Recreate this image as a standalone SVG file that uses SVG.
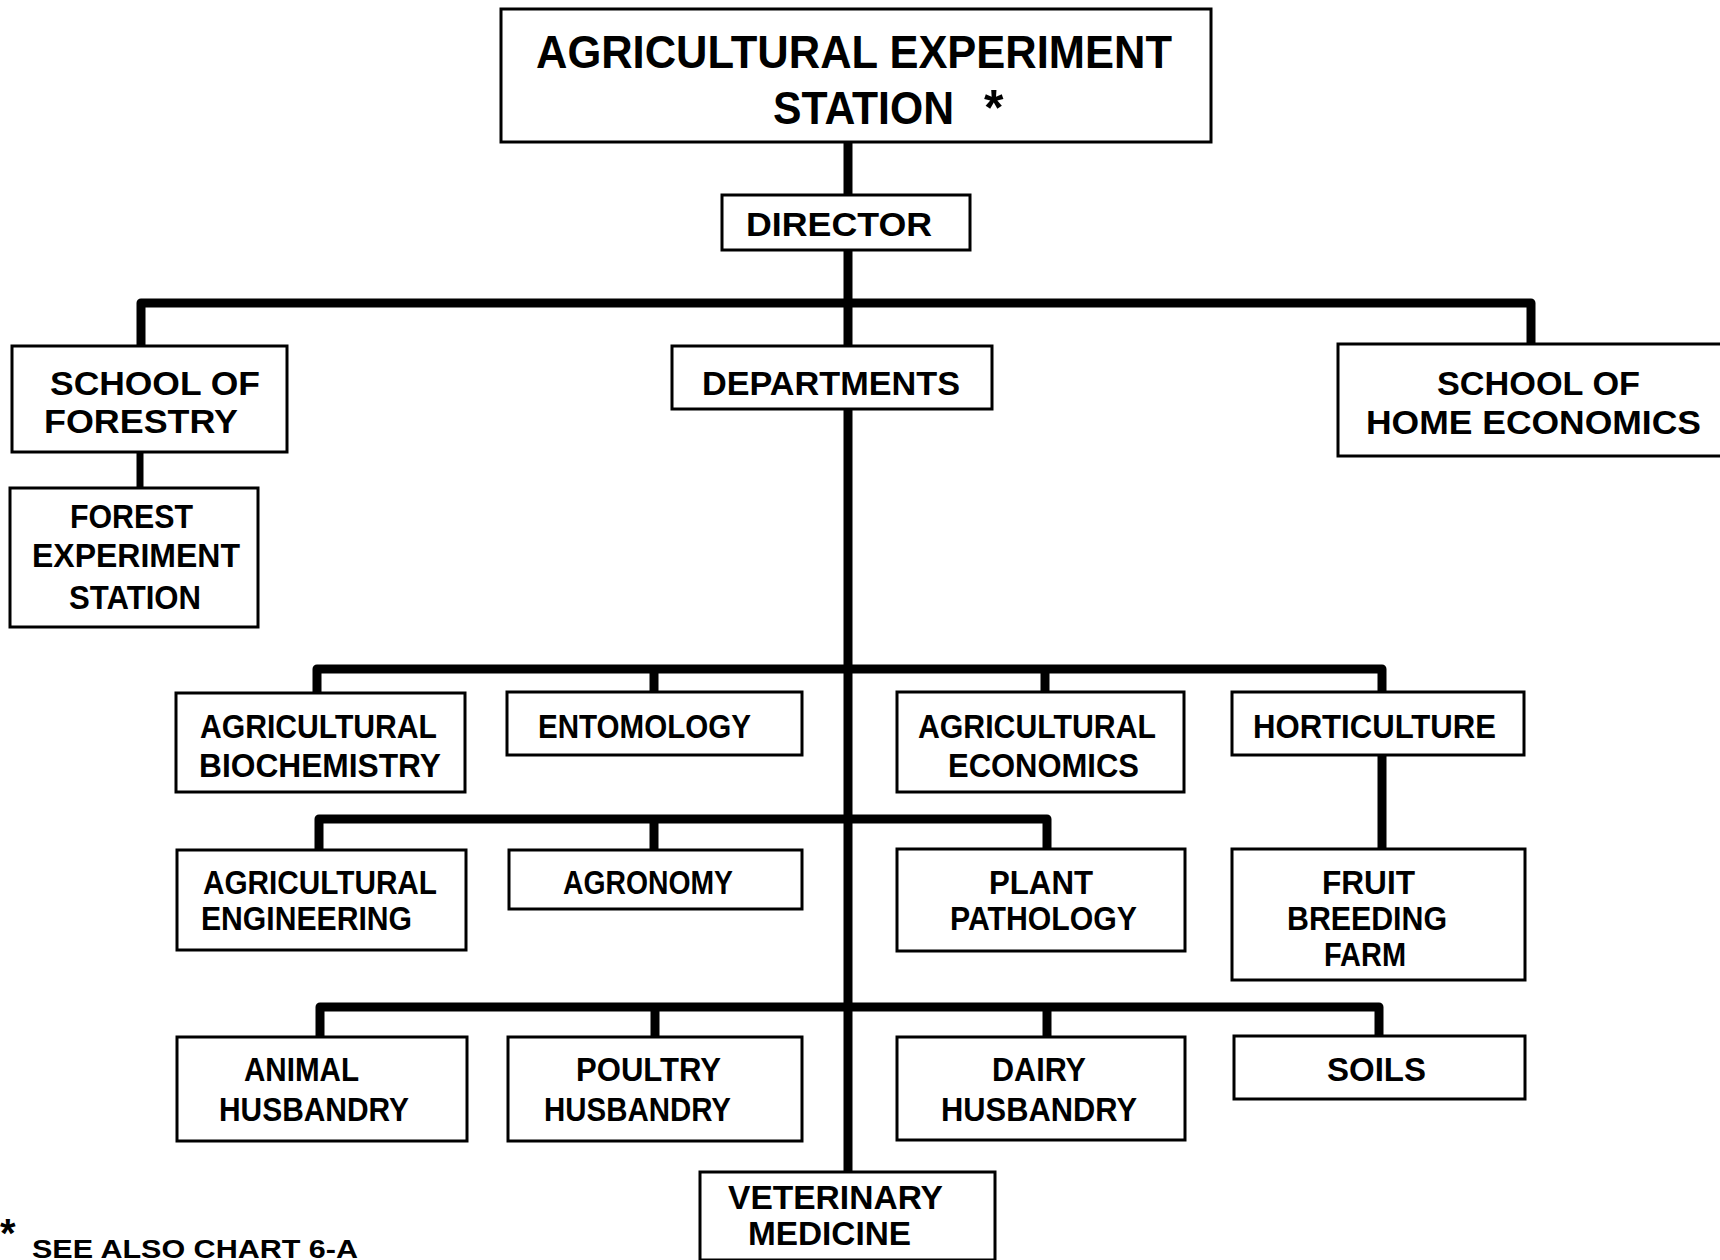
<svg xmlns="http://www.w3.org/2000/svg" width="1720" height="1260" viewBox="0 0 1720 1260">
<style>
.box{fill:#fff;stroke:#000;stroke-width:3}
.t{font-family:"Liberation Sans",Arial,sans-serif;font-weight:bold;font-size:33px;fill:#000}
.big{font-size:47px}
.c{fill:none;stroke:#000;stroke-width:9;stroke-linejoin:round;stroke-linecap:butt}
</style>
<rect width="1720" height="1260" fill="#fff"/>
<g id="connectors">
<path class="c" d="M848 142 V195"/>
<path class="c" d="M848 250 V346"/>
<path class="c" d="M141 346 V303 H1531 V344"/>
<path class="c" d="M140 452 V488" style="stroke-width:7"/>
<path class="c" d="M848 409 V1172"/>
<path class="c" d="M317 693 V669 H1382 V692"/>
<path class="c" d="M654 669 V692"/>
<path class="c" d="M1045 669 V692"/>
<path class="c" d="M1382 755 V849"/>
<path class="c" d="M319 850 V819 H1047 V849"/>
<path class="c" d="M654 819 V850"/>
<path class="c" d="M320 1037 V1007 H1379 V1036"/>
<path class="c" d="M655 1007 V1037"/>
<path class="c" d="M1047 1007 V1037"/>
</g>
<g id="station">
<rect class="box" x="501" y="9" width="710" height="133"/>
<text class="t big" x="536" y="68" textLength="636" lengthAdjust="spacingAndGlyphs">AGRICULTURAL EXPERIMENT</text>
<text class="t big" x="773" y="124" textLength="181" lengthAdjust="spacingAndGlyphs">STATION</text>
<text class="t" x="984" y="125" style="font-size:50px">*</text>
</g>
<g id="director">
<rect class="box" x="722" y="195" width="248" height="55"/>
<text class="t" x="746" y="236" textLength="186" lengthAdjust="spacingAndGlyphs">DIRECTOR</text>
</g>
<g id="forestry">
<rect class="box" x="12" y="346" width="275" height="106"/>
<text class="t" x="50" y="395" textLength="210" lengthAdjust="spacingAndGlyphs">SCHOOL OF</text>
<text class="t" x="44" y="433" textLength="194" lengthAdjust="spacingAndGlyphs">FORESTRY</text>
</g>
<g id="forest-station">
<rect class="box" x="10" y="488" width="248" height="139"/>
<text class="t" x="70" y="528" textLength="123" lengthAdjust="spacingAndGlyphs">FOREST</text>
<text class="t" x="32" y="567" textLength="208" lengthAdjust="spacingAndGlyphs">EXPERIMENT</text>
<text class="t" x="69" y="609" textLength="132" lengthAdjust="spacingAndGlyphs">STATION</text>
</g>
<g id="departments">
<rect class="box" x="672" y="346" width="320" height="63"/>
<text class="t" x="702" y="395" textLength="258" lengthAdjust="spacingAndGlyphs">DEPARTMENTS</text>
</g>
<g id="home-economics">
<rect class="box" x="1338" y="344" width="400" height="112"/>
<text class="t" x="1437" y="395" textLength="203" lengthAdjust="spacingAndGlyphs">SCHOOL OF</text>
<text class="t" x="1366" y="434" textLength="335" lengthAdjust="spacingAndGlyphs">HOME ECONOMICS</text>
</g>
<g id="ag-biochem">
<rect class="box" x="176" y="693" width="289" height="99"/>
<text class="t" x="200" y="738" textLength="237" lengthAdjust="spacingAndGlyphs">AGRICULTURAL</text>
<text class="t" x="199" y="777" textLength="242" lengthAdjust="spacingAndGlyphs">BIOCHEMISTRY</text>
</g>
<g id="entomology">
<rect class="box" x="507" y="692" width="295" height="63"/>
<text class="t" x="538" y="738" textLength="213" lengthAdjust="spacingAndGlyphs">ENTOMOLOGY</text>
</g>
<g id="ag-economics">
<rect class="box" x="897" y="692" width="287" height="100"/>
<text class="t" x="918" y="738" textLength="238" lengthAdjust="spacingAndGlyphs">AGRICULTURAL</text>
<text class="t" x="948" y="777" textLength="191" lengthAdjust="spacingAndGlyphs">ECONOMICS</text>
</g>
<g id="horticulture">
<rect class="box" x="1232" y="692" width="292" height="63"/>
<text class="t" x="1253" y="738" textLength="243" lengthAdjust="spacingAndGlyphs">HORTICULTURE</text>
</g>
<g id="ag-engineering">
<rect class="box" x="177" y="850" width="289" height="100"/>
<text class="t" x="203" y="894" textLength="234" lengthAdjust="spacingAndGlyphs">AGRICULTURAL</text>
<text class="t" x="201" y="930" textLength="211" lengthAdjust="spacingAndGlyphs">ENGINEERING</text>
</g>
<g id="agronomy">
<rect class="box" x="509" y="850" width="293" height="59"/>
<text class="t" x="563" y="894" textLength="170" lengthAdjust="spacingAndGlyphs">AGRONOMY</text>
</g>
<g id="plant-pathology">
<rect class="box" x="897" y="849" width="288" height="102"/>
<text class="t" x="989" y="894" textLength="104" lengthAdjust="spacingAndGlyphs">PLANT</text>
<text class="t" x="950" y="930" textLength="187" lengthAdjust="spacingAndGlyphs">PATHOLOGY</text>
</g>
<g id="fruit-farm">
<rect class="box" x="1232" y="849" width="293" height="131"/>
<text class="t" x="1322" y="894" textLength="93" lengthAdjust="spacingAndGlyphs">FRUIT</text>
<text class="t" x="1287" y="930" textLength="160" lengthAdjust="spacingAndGlyphs">BREEDING</text>
<text class="t" x="1324" y="966" textLength="82" lengthAdjust="spacingAndGlyphs">FARM</text>
</g>
<g id="animal">
<rect class="box" x="177" y="1037" width="290" height="104"/>
<text class="t" x="244" y="1081" textLength="115" lengthAdjust="spacingAndGlyphs">ANIMAL</text>
<text class="t" x="219" y="1121" textLength="190" lengthAdjust="spacingAndGlyphs">HUSBANDRY</text>
</g>
<g id="poultry">
<rect class="box" x="508" y="1037" width="294" height="104"/>
<text class="t" x="576" y="1081" textLength="145" lengthAdjust="spacingAndGlyphs">POULTRY</text>
<text class="t" x="544" y="1121" textLength="187" lengthAdjust="spacingAndGlyphs">HUSBANDRY</text>
</g>
<g id="dairy">
<rect class="box" x="897" y="1037" width="288" height="103"/>
<text class="t" x="992" y="1081" textLength="94" lengthAdjust="spacingAndGlyphs">DAIRY</text>
<text class="t" x="941" y="1121" textLength="196" lengthAdjust="spacingAndGlyphs">HUSBANDRY</text>
</g>
<g id="soils">
<rect class="box" x="1234" y="1036" width="291" height="63"/>
<text class="t" x="1327" y="1081" textLength="99" lengthAdjust="spacingAndGlyphs">SOILS</text>
</g>
<g id="veterinary">
<rect class="box" x="700" y="1172" width="295" height="88"/>
<text class="t" x="728" y="1209" textLength="215" lengthAdjust="spacingAndGlyphs">VETERINARY</text>
<text class="t" x="748" y="1245" textLength="163" lengthAdjust="spacingAndGlyphs">MEDICINE</text>
</g>
<g id="footnote">
<text class="t" x="0" y="1247" style="font-size:40px">*</text>
<text class="t" x="32" y="1258" textLength="326" lengthAdjust="spacingAndGlyphs" style="font-size:25px">SEE ALSO CHART 6-A</text>
</g>
</svg>
